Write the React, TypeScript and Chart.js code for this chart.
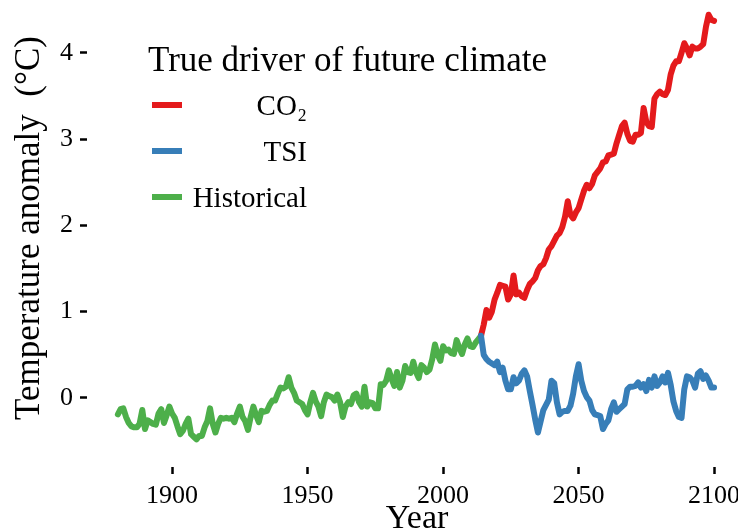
import { useEffect, useRef } from "react";
import { Chart, registerables } from "chart.js";

Chart.register(...registerables);

const FONT = "'Liberation Serif', 'DejaVu Serif', serif";

const HIST_START = 1880;
const historical = [
  -0.19, -0.13, -0.12, -0.22, -0.29, -0.33, -0.34, -0.34, -0.30, -0.14,
  -0.36, -0.26, -0.28, -0.30, -0.31, -0.18, -0.13, -0.29, -0.20, -0.10,
  -0.18, -0.23, -0.33, -0.42, -0.38, -0.30, -0.24, -0.42, -0.45, -0.48,
  -0.44, -0.44, -0.34, -0.27, -0.12, -0.30, -0.40, -0.30, -0.23, -0.24,
  -0.23, -0.24, -0.23, -0.28, -0.18, -0.10, -0.22, -0.27, -0.37, -0.22,
  -0.10, -0.20, -0.28, -0.15, -0.16, -0.15, -0.08, -0.03, -0.03, 0.05,
  0.12, 0.11, 0.13, 0.24, 0.12, 0.06, -0.03, -0.05, -0.07, -0.14,
  -0.19, -0.05, 0.06, -0.04, -0.10, -0.21, -0.05, 0.04, 0.02, 0.01,
  -0.03, 0.04, -0.05, -0.22, -0.10, -0.05, -0.07, 0.03, 0.05, -0.05,
  -0.10, 0.13, -0.10, -0.05, -0.06, -0.12, -0.12, 0.16, 0.15, 0.20,
  0.32, 0.22, 0.14, 0.30, 0.12, 0.20, 0.37, 0.30, 0.29, 0.42,
  0.30, 0.23, 0.38, 0.35, 0.30, 0.33, 0.45, 0.62, 0.50, 0.43,
  0.60, 0.55, 0.56, 0.52, 0.51, 0.67, 0.58, 0.51, 0.62, 0.69,
  0.60, 0.59, 0.64, 0.68, 0.72,
];

const FUT_START = 2014;
const co2 = [
  0.72, 0.85, 1.02, 0.93, 1.00, 1.14, 1.22, 1.31, 1.30, 1.29,
  1.14, 1.20, 1.42, 1.20, 1.22, 1.18, 1.16, 1.25, 1.32, 1.35,
  1.39, 1.48, 1.53, 1.55, 1.62, 1.72, 1.76, 1.82, 1.88, 1.91,
  1.98, 2.10, 2.28, 2.12, 2.08, 2.15, 2.20, 2.30, 2.40, 2.47,
  2.43, 2.48, 2.58, 2.62, 2.66, 2.73, 2.74, 2.81, 2.82, 2.83,
  2.95, 3.05, 3.15, 3.19, 3.06, 2.98, 2.97, 3.05, 3.05, 3.07,
  3.36, 3.20, 3.15, 3.14, 3.47, 3.52, 3.55, 3.52, 3.51, 3.57,
  3.75, 3.85, 3.90, 3.90, 4.00, 4.11, 4.05, 3.97, 4.07, 4.05,
  4.05, 4.07, 4.10, 4.30, 4.44, 4.38, 4.37,
];
const tsi = [
  0.72, 0.50, 0.45, 0.42, 0.40, 0.38, 0.42, 0.30, 0.35, 0.20,
  0.10, 0.10, 0.24, 0.17, 0.20, 0.28, 0.32, 0.25, 0.08, -0.08,
  -0.25, -0.40, -0.27, -0.14, -0.08, -0.02, 0.20, 0.17, -0.05, -0.19,
  -0.16, -0.15, -0.15, -0.09, 0.05, 0.25, 0.39, 0.20, 0.08, 0.01,
  -0.03, -0.14, -0.19, -0.20, -0.21, -0.36, -0.30, -0.26, -0.13, -0.05,
  -0.16, -0.13, -0.10, -0.07, 0.10, 0.13, 0.13, 0.14, 0.18, 0.12,
  0.16, 0.08, 0.21, 0.12, 0.25, 0.14, 0.18, 0.25, 0.18, 0.29,
  0.15, -0.04, -0.15, -0.22, -0.23, 0.10, 0.25, 0.24, 0.20, 0.12,
  0.28, 0.31, 0.22, 0.26, 0.20, 0.12, 0.12,
];

const xTicks = [1900, 1950, 2000, 2050, 2100];
const yTicks = [0, 1, 2, 3, 4];

const legendTitle = "True driver of future climate";
const seriesLabels = ["CO₂", "TSI", "Historical"];
const seriesColors = ["#e41a1c", "#377eb8", "#4daf4a"];
const xTitle = "Year";
const yTitle = "Temperature anomaly  (°C)";

const toPoints = (start: number, vals: number[]) =>
  vals.map((v, i) => ({ x: start + i, y: v }));

const labelsPlugin = {
  id: "customLegendAndTitles",
  afterDraw(chart: any) {
    const ctx = chart.ctx as CanvasRenderingContext2D;
    ctx.save();
    ctx.fillStyle = "#000";
    ctx.textBaseline = "alphabetic";
    ctx.textAlign = "left";
    ctx.font = `35px ${FONT}`;
    ctx.fillText(legendTitle, 148, 71);
    ctx.font = `29px ${FONT}`;
    ctx.textAlign = "right";
    seriesLabels.forEach((lab, i) => {
      const y = 105 + 46 * i;
      ctx.strokeStyle = seriesColors[i];
      ctx.lineWidth = 6;
      ctx.lineCap = "butt";
      ctx.beginPath();
      ctx.moveTo(152, y);
      ctx.lineTo(182, y);
      ctx.stroke();
      ctx.fillText(lab, 307, y + 10);
    });
    ctx.textAlign = "center";
    ctx.font = `34px ${FONT}`;
    ctx.fillText(xTitle, 417, 528);
    ctx.translate(39, 228);
    ctx.rotate(-Math.PI / 2);
    ctx.font = `35px ${FONT}`;
    ctx.fillText(yTitle, 0, 0);
    ctx.restore();
  },
};

export default function App() {
  const ref = useRef<HTMLCanvasElement | null>(null);
  useEffect(() => {
    if (!ref.current) return;
    const lineStyle = {
      pointRadius: 0,
      borderWidth: 6,
      tension: 0,
      borderJoinStyle: "round" as const,
      borderCapStyle: "round" as const,
      fill: false,
    };
    const tickGrid = {
      display: true,
      drawOnChartArea: false,
      drawTicks: true,
      tickLength: 7,
      tickWidth: 2.5,
      tickColor: "#000",
    };
    const chart = new Chart(ref.current, {
      type: "line",
      data: {
        datasets: [
          {
            label: seriesLabels[2],
            data: toPoints(HIST_START, historical),
            borderColor: seriesColors[2],
            backgroundColor: seriesColors[2],
            order: 3,
            ...lineStyle,
          },
          {
            label: seriesLabels[0],
            data: toPoints(FUT_START, co2),
            borderColor: seriesColors[0],
            backgroundColor: seriesColors[0],
            order: 2,
            ...lineStyle,
          },
          {
            label: seriesLabels[1],
            data: toPoints(FUT_START, tsi),
            borderColor: seriesColors[1],
            backgroundColor: seriesColors[1],
            order: 1,
            ...lineStyle,
          },
        ],
      },
      options: {
        animation: false,
        responsive: false,
        devicePixelRatio: 1,
        layout: { padding: { left: 0, top: 7, right: 12, bottom: 0 } },
        plugins: { legend: { display: false }, tooltip: { enabled: false } },
        scales: {
          x: {
            type: "linear",
            min: 1868.6,
            max: 2104.4,
            afterBuildTicks: (s: any) => {
              s.ticks = xTicks.map((v) => ({ value: v }));
            },
            afterFit: (s: any) => {
              s.height = 64;
              s.paddingLeft = 0;
              s.paddingRight = 0;
            },
            border: { display: false },
            grid: tickGrid,
            ticks: {
              color: "#000",
              font: { family: FONT, size: 26 },
              padding: 7,
              maxRotation: 0,
              callback: (v: any) => String(v),
            },
            title: { display: false },
          },
          y: {
            type: "linear",
            min: -0.8,
            max: 4.53,
            afterBuildTicks: (s: any) => {
              s.ticks = yTicks.map((v) => ({ value: v }));
            },
            afterFit: (s: any) => {
              s.width = 87;
              s.paddingTop = 0;
              s.paddingBottom = 0;
            },
            border: { display: false },
            grid: tickGrid,
            ticks: {
              color: "#000",
              font: { family: FONT, size: 26 },
              padding: 7,
              callback: (v: any) => String(v),
            },
            title: { display: false },
          },
        },
      },
      plugins: [labelsPlugin],
    });
    return () => chart.destroy();
  }, []);
  return (
    <div style={{ position: "fixed", left: 0, top: 0, width: 738, height: 531, background: "#fff" }}>
      <canvas ref={ref} width={738} height={531} style={{ display: "block" }} />
    </div>
  );
}
